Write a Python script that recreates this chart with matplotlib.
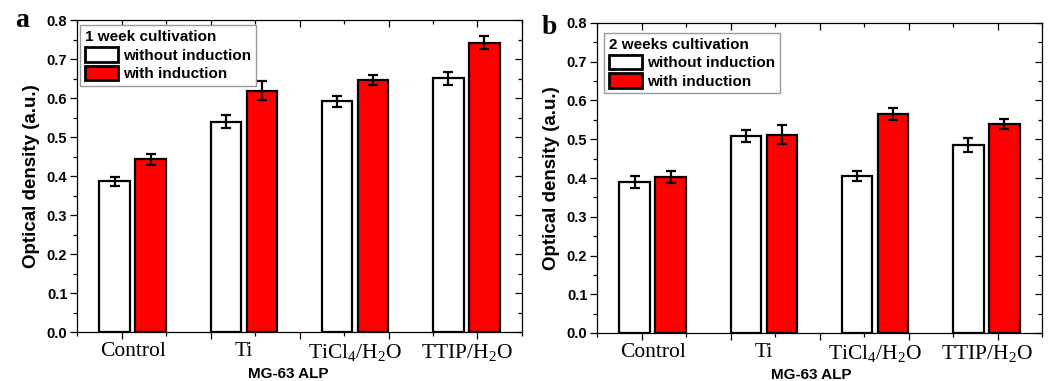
import matplotlib
matplotlib.use("Agg")
import matplotlib.pyplot as plt
import numpy as np
from matplotlib.ticker import MultipleLocator, FixedLocator, NullFormatter, FuncFormatter

plt.rcParams['mathtext.fontset'] = 'custom'
plt.rcParams['mathtext.rm'] = 'Liberation Serif'
plt.rcParams['mathtext.it'] = 'Liberation Serif'

categories = ['Control', 'Ti', r'TiCl$_4$/H$_2$O', r'TTIP/H$_2$O']
series_names = ['without induction', 'with induction']

week1_without = [0.387, 0.540, 0.592, 0.651]
week1_without_err = [0.012, 0.017, 0.015, 0.016]
week1_with = [0.443, 0.620, 0.647, 0.743]
week1_with_err = [0.015, 0.024, 0.013, 0.016]

week2_without = [0.390, 0.508, 0.404, 0.484]
week2_without_err = [0.016, 0.016, 0.013, 0.018]
week2_with = [0.403, 0.512, 0.565, 0.540]
week2_with_err = [0.015, 0.025, 0.015, 0.013]

legend_titles = ['1 week cultivation', '2 weeks cultivation']
panel_letters = ['a', 'b']
xlabel = 'MG-63 ALP'
ylabel = 'Optical density (a.u.)'

fig = plt.figure(figsize=(10.51, 3.81), dpi=100)
axes_rects = [[77/1051, 49/381, 445/1051, 311.6/381],
              [597/1051, 48/381, 445/1051, 310/381]]
data = [(week1_without, week1_without_err, week1_with, week1_with_err),
        (week2_without, week2_without_err, week2_with, week2_with_err)]
legend_anchor = [(0.007, 0.984), (0.016, 0.968)]
xlabel_x = [0.474, 0.481]
letter_pos = [(15/1051, (381-27)/381), (542/1051, (381-34)/381)]

sans = 'Liberation Sans'
serif = 'Liberation Serif'
x = np.arange(1, len(categories) + 1)
w = 0.275
off = 0.162

for i, rect in enumerate(axes_rects):
    ax = fig.add_axes(rect)
    wo, woe, wi, wie = data[i]
    b1 = ax.bar(x - off, wo, w, color='white', edgecolor='black', linewidth=1.6,
                label=series_names[0], zorder=2)
    b2 = ax.bar(x + off, wi, w, color='#ff0000', edgecolor='black', linewidth=1.6,
                label=series_names[1], zorder=2)
    ax.errorbar(x - off, wo, yerr=woe, fmt='none', ecolor='black', elinewidth=1.6,
                capsize=3.5, capthick=1.6, zorder=3)
    ax.errorbar(x + off, wi, yerr=wie, fmt='none', ecolor='black', elinewidth=1.6,
                capsize=3.5, capthick=1.6, zorder=3)
    ax.set_xlim(0.5, 4.5)
    ax.set_ylim(0, 0.8)

    for s in ax.spines.values():
        s.set_linewidth(0.9)

    # y axis
    ax.yaxis.set_major_locator(MultipleLocator(0.1))
    ax.yaxis.set_minor_locator(MultipleLocator(0.05))
    ax.yaxis.set_major_formatter(FuncFormatter(lambda v, p: f'{v:.1f}'))
    ax.tick_params(axis='y', which='major', direction='out', length=5, width=0.9,
                   labelsize=10.5, pad=2)
    ax.tick_params(axis='y', which='minor', direction='out', length=3, width=0.9)
    for lab in ax.get_yticklabels():
        lab.set_fontfamily(sans)
        lab.set_fontweight('bold')
    ax.set_ylabel(ylabel, fontfamily=sans, fontweight='bold', fontsize=13.5, labelpad=5)

    # x axis category labels
    ax.set_xticks(x)
    ax.set_xticklabels(categories, fontfamily=serif, fontsize=15.5)
    ax.tick_params(axis='x', which='major', length=0, pad=7)
    ax.set_xlabel(xlabel, fontfamily=sans, fontweight='bold', fontsize=11)
    ax.xaxis.set_label_coords(xlabel_x[i], -0.112)

    # tick marks on bottom (out), top (in), right (in)
    secb = ax.secondary_xaxis('bottom')
    secb.xaxis.set_major_locator(FixedLocator([0.9, 1.7, 2.5, 3.3, 4.1]))
    secb.xaxis.set_minor_locator(FixedLocator([0.5, 1.3, 2.1, 2.9, 3.7, 4.5]))
    secb.xaxis.set_major_formatter(NullFormatter())
    secb.tick_params(which='major', direction='out', length=5, width=0.9)
    secb.tick_params(which='minor', direction='out', length=3, width=0.9)
    secb.spines['bottom'].set_visible(False)

    sect = ax.secondary_xaxis('top')
    sect.xaxis.set_major_locator(FixedLocator([0.9, 1.7, 2.5, 3.3, 4.1]))
    sect.xaxis.set_minor_locator(FixedLocator([0.5, 1.3, 2.1, 2.9, 3.7, 4.5]))
    sect.xaxis.set_major_formatter(NullFormatter())
    sect.tick_params(which='major', direction='in', length=5, width=0.9)
    sect.tick_params(which='minor', direction='in', length=3, width=0.9)
    sect.spines['top'].set_visible(False)

    secr = ax.secondary_yaxis('right')
    secr.yaxis.set_major_locator(MultipleLocator(0.1))
    secr.yaxis.set_minor_locator(MultipleLocator(0.05))
    secr.yaxis.set_major_formatter(NullFormatter())
    secr.tick_params(which='major', direction='in', length=5, width=0.9)
    secr.tick_params(which='minor', direction='in', length=3, width=0.9)
    secr.spines['right'].set_visible(False)

    leg = ax.legend(handles=[b1, b2], loc='upper left', bbox_to_anchor=legend_anchor[i],
                    borderaxespad=0, title=legend_titles[i],
                    prop={'family': sans, 'weight': 'bold', 'size': 11},
                    title_fontproperties={'family': sans, 'weight': 'bold', 'size': 11},
                    alignment='left', fancybox=False, framealpha=1,
                    edgecolor='#999999', handlelength=2.15, handleheight=1.1,
                    handletextpad=0.35, labelspacing=0.2, borderpad=0.3)
    leg.get_frame().set_linewidth(1.0)
    for p in leg.get_patches():
        p.set_linewidth(2.0)

    fig.text(letter_pos[i][0], letter_pos[i][1], panel_letters[i], fontfamily=serif,
             fontweight='bold', fontsize=20, va='baseline', ha='left')

fig.savefig('out.png', dpi=100)
